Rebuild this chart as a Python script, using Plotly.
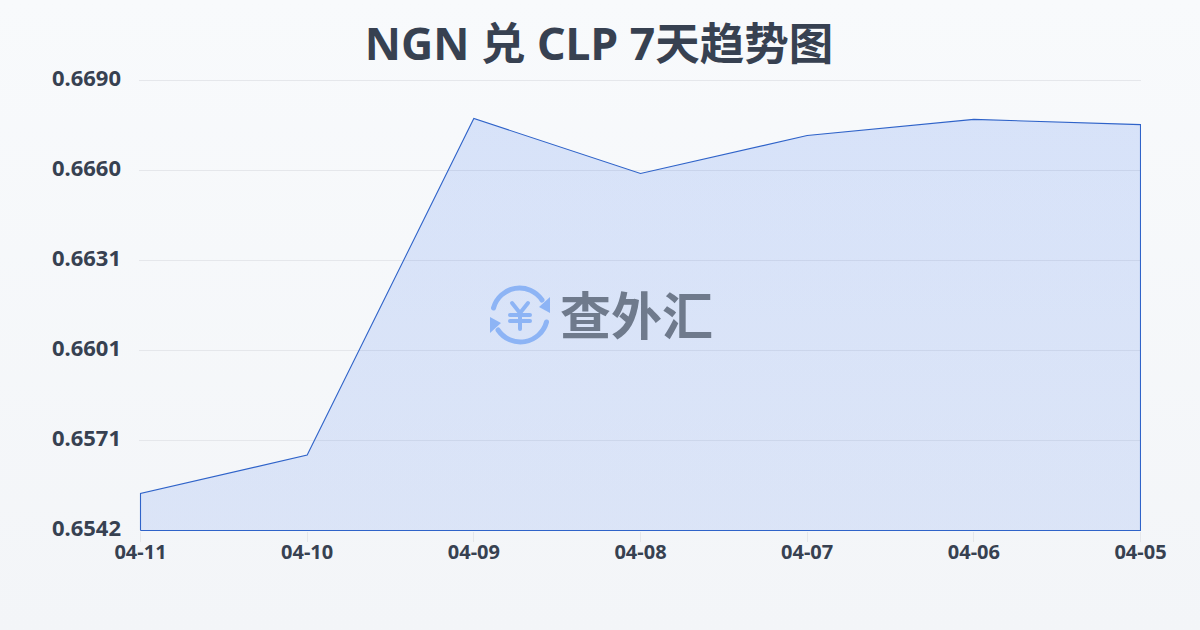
import base64
import plotly.graph_objects as go

TITLE = "NGN 兑 CLP 7天趋势图"
dates = ["04-11", "04-10", "04-09", "04-08", "04-07", "04-06", "04-05"]
rates = [0.65542, 0.65668, 0.66775, 0.66594, 0.66719, 0.66772, 0.66755]
y_min = 0.6542
y_max = 0.6690
y_ticks = [0.6542, 0.65716, 0.66012, 0.66308, 0.66604, 0.6690]
y_labels = ["0.6542", "0.6571", "0.6601", "0.6631", "0.6660", "0.6690"]

FONT = "'Noto Sans', 'Noto Sans CJK SC', sans-serif"
W, H = 1200, 630
# plot frame is 1px wider than the data box so the edge lines and end ticks survive
L, R, T, B = 139, 59, 79, 99
PW, PH = W - L - R, H - T - B
X_PX = 6 / 1000
Y_PX = (y_max - y_min) / 450


def svg_uri(svg):
    return "data:image/svg+xml;base64," + base64.b64encode(svg.encode()).decode()


bg_svg = (
    f'<svg xmlns="http://www.w3.org/2000/svg" width="{W}" height="{H}" preserveAspectRatio="none">'
    '<defs><linearGradient id="g" x1="0" y1="0" x2="0" y2="1">'
    '<stop offset="0" stop-color="#f8fafc"/><stop offset="1" stop-color="#f3f5f8"/>'
    f'</linearGradient></defs><rect width="{W}" height="{H}" fill="url(#g)"/></svg>'
)
icon_svg = (
    '<svg xmlns="http://www.w3.org/2000/svg" width="60" height="60" viewBox="0 0 60 60">'
    '<g fill="none" stroke="#8db4f5" stroke-width="5" stroke-linecap="round">'
    '<path d="M3.5 23 A27 27 0 0 1 52 15"/><path d="M56.5 37 A27 27 0 0 1 8 45"/>'
    '<path d="M22 18 L30 28 L38 18 M20 30 H40 M20 36 H40 M30 28 V44" stroke-width="4"/></g>'
    '<path d="M49 22 L60 12 L60 28 Z M11 38 L0 32 L0 48 Z" fill="#8db4f5"/></svg>'
)

fig = go.Figure()
fig.add_trace(go.Scatter(
    x=[dates[0]] + dates + [dates[-1], dates[0]],
    y=[y_min] + rates + [y_min, y_min],
    mode="lines",
    fill="toself",
    fillgradient=dict(
        type="vertical",
        colorscale=[[0, "rgba(37,99,235,0.12)"], [1, "rgba(37,99,235,0.15)"]],
    ),
    line=dict(color="#2f63c9", width=1.1),
    hoverinfo="skip",
    showlegend=False,
))

fig.update_layout(
    width=W, height=H,
    margin=dict(l=L, r=R, t=T, b=B, pad=0),
    paper_bgcolor="#f6f8fa",
    plot_bgcolor="rgba(0,0,0,0)",
    font=dict(family=FONT, color="#374151"),
    title=dict(
        text=f"<b>{TITLE}</b>", x=599 / W, xanchor="center", y=1 - 44 / H, yanchor="middle",
        font=dict(size=44.5, family=FONT, color="#374151"),
    ),
    xaxis=dict(
        type="category", categoryorder="array", categoryarray=dates,
        range=[-1.5 * X_PX, 6 + 0.5 * X_PX],
        showgrid=False, zeroline=False, showline=False,
        ticks="outside", ticklen=10, tickcolor="#e5e7eb", tickwidth=1,
        ticklabelstandoff=-7,
        tickfont=dict(size=20, family=FONT, color="#374151", weight="bold"),
    ),
    yaxis=dict(
        range=[y_min - 0.5 * Y_PX, y_max + 1.5 * Y_PX],
        tickmode="array", tickvals=y_ticks, ticktext=y_labels,
        showgrid=True, gridcolor="#e5e7eb", gridwidth=1, zeroline=False, showline=False,
        ticks="", ticklabelstandoff=17, ticklabelshift=-2,
        tickfont=dict(size=22, family=FONT, color="#374151", weight="bold"),
    ),
    images=[
        dict(source=svg_uri(bg_svg), xref="paper", yref="paper", x=-L / PW, y=1 + T / PH,
             sizex=W / PW, sizey=H / PH, xanchor="left", yanchor="top",
             sizing="stretch", layer="below"),
        dict(source=svg_uri(icon_svg), xref="paper", yref="paper", x=(490 - L) / PW, y=1 - (285 - T) / PH,
             sizex=60 / PW, sizey=60 / PH, xanchor="left", yanchor="top",
             sizing="contain", layer="above"),
    ],
    annotations=[dict(
        text="<b>查外汇</b>", xref="paper", yref="paper", x=(636 - L) / PW, y=1 - (313 - T) / PH,
        xanchor="center", yanchor="middle", showarrow=False,
        font=dict(size=51, family="'Noto Sans CJK SC', sans-serif", color="#6f7a8c"),
    )],
)

fig.write_html(
    "out.html",
    config={"displayModeBar": False},
    post_script="document.body.style.margin='0';",
)
